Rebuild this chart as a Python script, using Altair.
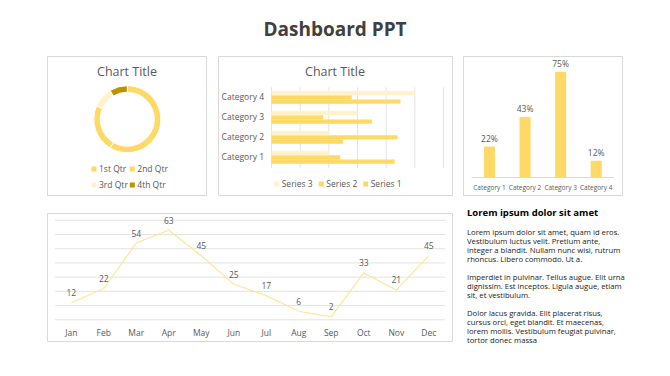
import altair as alt
import pandas as pd

# ---------------- data ----------------
page_title = ["Dashboard PPT"]
chart_title = ["Chart Title"]

quarters = ["1st Qtr", "2nd Qtr", "3rd Qtr", "4th Qtr"]
quarter_sales = [8.2, 3.2, 1.4, 1.2]

bar_categories = ["Category 1", "Category 2", "Category 3", "Category 4"]
series_names = ["Series 1", "Series 2", "Series 3"]
series1 = [4.3, 2.5, 3.5, 4.5]
series2 = [2.4, 4.4, 1.8, 2.8]
series3 = [2, 2, 3, 5]
bar_ticks = [0, 1, 2, 3, 4, 5, 6]

col_categories = ["Category 1", "Category 2", "Category 3", "Category 4"]
col_values = [0.22, 0.43, 0.75, 0.12]

months = ["Jan", "Feb", "Mar", "Apr", "May", "Jun",
          "Jul", "Aug", "Sep", "Oct", "Nov", "Dec"]
month_values = [12, 22, 54, 63, 45, 25, 17, 6, 2, 33, 21, 45]
line_ticks = [0, 10, 20, 30, 40, 50, 60, 70]

text_heading = ["Lorem ipsum dolor sit amet"]
paragraph1 = ["Lorem ipsum dolor sit amet, quam id eros.",
              "Vestibulum luctus velit. Pretium ante,",
              "integer a blandit. Nullam nunc wisi, rutrum",
              "rhoncus. Libero commodo. Ut a."]
paragraph2 = ["Imperdiet in pulvinar. Tellus augue. Elit urna",
              "dignissim. Est inceptos. Ligula augue, etiam",
              "sit, et vestibulum."]
paragraph3 = ["Dolor lacus gravida. Elit placerat risus,",
              "cursus orci, eget blandit. Et maecenas,",
              "lorem mollis. Vestibulum feugiat pulvinar,",
              "tortor donec massa"]

# ---------------- style ----------------
OX, OY = 8, 8
def px(v):
    return v - OX
def py(v):
    return v - OY

FONT = "Open Sans"
GRAY = "#595959"
BORDER = "#d9d9d9"
GRID = "#e3e3e3"
YEL = "#FFD966"
LIGHT = "#FFF2CC"
DARK = "#BF9000"
LINEC = "#FFE699"
quarter_colors = [YEL, YEL, LIGHT, DARK]
series_colors = [YEL, YEL, LIGHT]

layers = []

def one(label):
    return pd.DataFrame({"label": [label]})

def text_at(label, x, y, size, color=GRAY, weight="normal", align="center", baseline="middle"):
    return alt.Chart(one(label)).mark_text(
        font=FONT, fontSize=size, color=color, fontWeight=weight,
        align=align, baseline=baseline
    ).encode(text="label:N", x=alt.value(px(x)), y=alt.value(py(y)))

def box(x0, y0, x1, y1):
    return alt.Chart(one("box")).mark_rect(
        fill="white", fillOpacity=0, stroke=BORDER, strokeWidth=1
    ).encode(x=alt.value(px(x0)), x2=alt.value(px(x1)),
             y=alt.value(py(y0)), y2=alt.value(py(y1)))

def legend_item(label, color, x, y, size):
    sq = alt.Chart(one(label)).mark_square(size=25, color=color, opacity=1).encode(
        x=alt.value(px(x)), y=alt.value(py(y)))
    return [sq, text_at(label, x + 5, y, size, align="left")]

# page title
layers.append(text_at(page_title[0], 335, 30, 19, color="#404040", weight="bold"))

# boxes
layers += [box(47.5, 56.5, 206.5, 195.5), box(218.5, 56.5, 452.5, 195.5),
           box(463.5, 56.5, 622.5, 195.5), box(47.5, 213.5, 452.5, 341.5)]

# ---------- donut ----------
layers.append(text_at(chart_title[0], 127, 71.5, 12.5))
donut_df = pd.DataFrame({"q": quarters, "v": quarter_sales})
layers.append(alt.Chart(donut_df).mark_arc(
    innerRadius=27, outerRadius=33.5, stroke="white", strokeWidth=1
).encode(
    theta=alt.Theta("v:Q", stack=True),
    color=alt.Color("q:N", scale=alt.Scale(domain=quarters, range=quarter_colors), legend=None),
    order=alt.Order("q:N"),
    x=alt.value(px(127.3)), y=alt.value(py(119.2)),
))
for (lab, col), (lx, ly) in zip(zip(quarters, quarter_colors),
                                [(94, 169), (132.3, 169), (94, 185), (132.3, 185)]):
    layers += legend_item(lab, col, lx, ly, 8.5)

# ---------- horizontal bars ----------
layers.append(text_at(chart_title[0], 335, 71.5, 12.5))
bar_x = alt.Scale(domain=[0, 6], range=[px(271.5), px(443.5)])
bar_y = alt.Scale(domain=list(reversed(bar_categories)), range=[py(87.3), py(167.3)],
                  paddingInner=0.35, paddingOuter=0.175)
grid_df = pd.DataFrame({"g": bar_ticks})
layers.append(alt.Chart(grid_df).mark_rule(color=GRID, strokeWidth=1).encode(
    x=alt.X("g:Q", scale=bar_x, axis=None),
    y=alt.value(py(87.3)), y2=alt.value(py(168))))
rows = []
for i, c in enumerate(bar_categories):
    for s, vals in zip(series_names, [series1, series2, series3]):
        rows.append({"cat": c, "series": s, "val": vals[i]})
bar_df = pd.DataFrame(rows)
layers.append(alt.Chart(bar_df).mark_bar().encode(
    x=alt.X("val:Q", scale=bar_x, axis=None),
    y=alt.Y("cat:N", scale=bar_y, axis=None),
    yOffset=alt.YOffset("series:N", scale=alt.Scale(domain=["Series 3", "Series 2", "Series 1"],
                                                     range=[0, 13], paddingInner=0, paddingOuter=0)),
    color=alt.Color("series:N", scale=alt.Scale(domain=series_names, range=series_colors), legend=None),
))
layers.append(alt.Chart(pd.DataFrame({"cat": bar_categories})).mark_text(
    font=FONT, fontSize=8.5, color=GRAY, align="right", baseline="middle"
).encode(y=alt.Y("cat:N", scale=bar_y, axis=None), text="cat:N", x=alt.value(px(264))))
for (lab, col), lx in zip([("Series 3", LIGHT), ("Series 2", YEL), ("Series 1", YEL)],
                          [276.7, 321.3, 365.7]):
    layers += legend_item(lab, col, lx, 184, 8.5)

# ---------- columns ----------
col_x = alt.Scale(domain=col_categories, range=[px(471.7), px(614)],
                  paddingInner=0.69, paddingOuter=0.345)
col_y = alt.Scale(domain=[0, 1], range=[py(177.7), py(36.4)])
col_df = pd.DataFrame({"cat": col_categories, "v": col_values})
layers.append(alt.Chart(col_df).mark_bar(color=YEL).encode(
    x=alt.X("cat:N", scale=col_x, axis=None),
    y=alt.Y("v:Q", scale=col_y, axis=None)))
layers.append(alt.Chart(col_df).mark_text(
    font=FONT, fontSize=8.5, color=GRAY, baseline="middle", dy=-8
).encode(x=alt.X("cat:N", scale=col_x, axis=None),
         y=alt.Y("v:Q", scale=col_y, axis=None),
         text=alt.Text("v:Q", format=".0%")))
layers.append(alt.Chart(one("axis")).mark_rule(color=BORDER, strokeWidth=1).encode(
    x=alt.value(px(471.7)), x2=alt.value(px(614)), y=alt.value(py(177.5))))
layers.append(alt.Chart(col_df).mark_text(
    font=FONT, fontSize=6.5, color=GRAY, baseline="middle"
).encode(x=alt.X("cat:N", scale=col_x, axis=None), text="cat:N", y=alt.value(py(187.5))))

# ---------- line ----------
line_x = alt.Scale(type="point", domain=months, range=[px(55), px(445)], padding=0.5)
line_y = alt.Scale(domain=[0, 70], range=[py(319.8), py(220.3)])
layers.append(alt.Chart(pd.DataFrame({"g": line_ticks})).mark_rule(color=GRID, strokeWidth=1).encode(
    y=alt.Y("g:Q", scale=line_y, axis=None), x=alt.value(px(55)), x2=alt.value(px(445))))
line_df = pd.DataFrame({"m": months, "v": month_values})
layers.append(alt.Chart(line_df).mark_line(color=LINEC, strokeWidth=1.2).encode(
    x=alt.X("m:N", scale=line_x, sort=None, axis=None),
    y=alt.Y("v:Q", scale=line_y, axis=None)))
layers.append(alt.Chart(line_df).mark_text(
    font=FONT, fontSize=8.5, color=GRAY, baseline="middle", dy=-9.5
).encode(x=alt.X("m:N", scale=line_x, sort=None, axis=None),
         y=alt.Y("v:Q", scale=line_y, axis=None), text="v:Q"))
layers.append(alt.Chart(line_df).mark_text(
    font=FONT, fontSize=8.5, color=GRAY, baseline="middle"
).encode(x=alt.X("m:N", scale=line_x, sort=None, axis=None),
         text="m:N", y=alt.value(py(332.5))))

# ---------- text block ----------
layers.append(text_at(text_heading[0], 467, 213, 9.5, color="black", weight="bold", align="left"))
for para, y0 in [(paragraph1, 234.5), (paragraph2, 279.5), (paragraph3, 315.5)]:
    layers.append(alt.Chart(pd.DataFrame({"label": ["\n".join(para)]})).mark_text(
        font=FONT, fontSize=7.7, color="#1a1a1a", align="left", baseline="alphabetic",
        lineBreak="\n", lineHeight=9.2
    ).encode(text="label:N", x=alt.value(px(467)), y=alt.value(py(y0))))

chart = alt.layer(*layers).resolve_scale(
    x="independent", y="independent", color="independent",
    theta="independent", yOffset="independent"
).properties(
    width=654, height=360, padding=0, autosize=alt.AutoSizeParams(type="none"),
    background="white"
).configure_view(strokeWidth=0)

chart.save("out.html", embed_options={"renderer": "svg", "actions": False})
